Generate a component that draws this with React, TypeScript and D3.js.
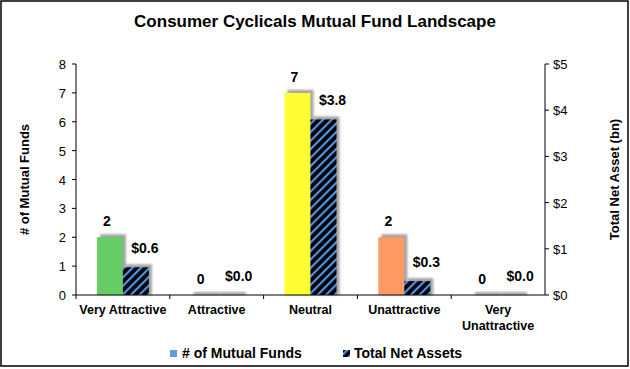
import React from 'react';
import * as d3 from 'd3';

// Consumer Cyclicals mutual fund landscape (funds count + net assets)
const categories = ['Very Attractive', 'Attractive', 'Neutral', 'Unattractive', 'Very Unattractive'];
const fundCounts = [2, 0, 7, 2, 0];
const netAssets = [0.6, 0.0, 3.8, 0.3, 0.0];
const fundColors = ['#66cc66', '#66cc66', '#ffff33', '#ff9966', '#ff9966'];
const leftTicks = [0, 1, 2, 3, 4, 5, 6, 7, 8];
const rightTicks = [0, 1, 2, 3, 4, 5];

const W = 630, H = 369;
const margin = {top: 64, right: 85, bottom: 74, left: 76};
const FONT = '"Liberation Sans", Arial, sans-serif';

export default function App() {
  const innerB = H - margin.bottom;
  const x = d3.scaleBand<string>().domain(categories).range([margin.left, W - margin.right]);
  const yL = d3.scaleLinear().domain([0, 8]).range([innerB, margin.top]);
  const yR = d3.scaleLinear().domain([0, 5]).range([innerB, margin.top]);
  const sub = d3.scaleBand<string>().domain(['funds', 'assets']).range([-26, 26]);
  const bw = sub.bandwidth();
  const cx = (c: string) => (x(c) as number) + x.bandwidth() / 2;
  const axisR = W - margin.right;

  const shadow = (bx: number, top: number, key: string) => (
    <rect key={key} x={bx + 3} y={top - 3} width={bw} height={innerB - top + 3}
      fill="#8c8c8c" opacity={0.8} filter="url(#blur)" />
  );

  return (
    <div style={{position: 'absolute', left: 0, top: 0}}>
      <svg width={W} height={H} style={{display: 'block', fontFamily: FONT}}>
        <defs>
          <pattern id="hatch" patternUnits="userSpaceOnUse" width={6} height={6} patternTransform="rotate(45)">
            <rect width={6} height={6} fill="#000" />
            <rect x={0} y={0} width={2.2} height={6} fill="#4d94ea" />
          </pattern>
          <filter id="blur" x="-20%" y="-20%" width="140%" height="140%">
            <feGaussianBlur stdDeviation={1.1} />
          </filter>
        </defs>
        <rect x={1} y={1} width={W - 3} height={H - 4} fill="#fff" stroke="#000" strokeWidth={1.5} />

        <text x={W / 2} y={27} textAnchor="middle" fontSize={17} fontWeight="bold">
          Consumer Cyclicals Mutual Fund Landscape
        </text>

        {/* bars */}
        {categories.map((c, i) => {
          const fx = cx(c) + (sub('funds') as number);
          const ax = cx(c) + (sub('assets') as number);
          const fTop = yL(fundCounts[i]);
          const aTop = yR(netAssets[i]);
          return (
            <g key={c}>
              {shadow(fx, fTop, 'fs')}
              <rect x={fx} y={fTop} width={bw} height={innerB - fTop} fill={fundColors[i]} />
              {shadow(ax, aTop, 'as')}
              {netAssets[i] > 0 && <rect x={ax} y={aTop} width={bw} height={innerB - aTop} fill="url(#hatch)" />}
              <text x={fx + bw / 2 - 3} y={fTop - 11} textAnchor="middle" fontSize={14} fontWeight="bold">
                {fundCounts[i]}
              </text>
              <text x={ax + bw / 2 + 9} y={aTop - 14} textAnchor="middle" fontSize={14} fontWeight="bold">
                {d3.format('$.1f')(netAssets[i])}
              </text>
            </g>
          );
        })}

        {/* left axis */}
        <line x1={margin.left} x2={margin.left} y1={margin.top} y2={innerB} stroke="#000" />
        {leftTicks.map(t => (
          <g key={t}>
            <line x1={margin.left - 4} x2={margin.left} y1={yL(t)} y2={yL(t)} stroke="#000" />
            <text x={margin.left - 10} y={yL(t) + 5} textAnchor="end" fontSize={13}>{t}</text>
          </g>
        ))}
        <text transform={`translate(29,${(margin.top + innerB) / 2}) rotate(-90)`} textAnchor="middle"
          fontSize={13} fontWeight="bold">
          # of Mutual Funds
        </text>

        {/* right axis */}
        <line x1={axisR} x2={axisR} y1={margin.top} y2={innerB} stroke="#000" />
        {rightTicks.map(t => (
          <g key={t}>
            <line x1={axisR} x2={axisR + 4} y1={yR(t)} y2={yR(t)} stroke="#000" />
            <text x={axisR + 8} y={yR(t) + 5} textAnchor="start" fontSize={13}>{d3.format('$')(t)}</text>
          </g>
        ))}
        <text transform={`translate(619,${(margin.top + innerB) / 2}) rotate(-90)`} textAnchor="middle"
          fontSize={13} fontWeight="bold">
          Total Net Asset (bn)
        </text>

        {/* x axis */}
        <line x1={margin.left} x2={axisR} y1={innerB} y2={innerB} stroke="#000" strokeWidth={1.2} />
        {categories.map(c => (
          <line key={'t' + c} x1={x(c) as number} x2={x(c) as number} y1={innerB} y2={innerB + 4} stroke="#000" />
        ))}
        {categories.map(c => {
          const words = c === 'Very Unattractive' ? ['Very', 'Unattractive'] : [c];
          return (
            <text key={'l' + c} x={cx(c)} y={314} textAnchor="middle" fontSize={12.5} fontWeight="bold">
              {words.map((w, j) => <tspan key={w} x={cx(c)} dy={j === 0 ? 0 : 16}>{w}</tspan>)}
            </text>
          );
        })}

        {/* legend */}
        <rect x={170} y={350} width={7} height={7} fill="#5b9bea" />
        <text x={182} y={358} fontSize={14} fontWeight="bold"># of Mutual Funds</text>
        <rect x={343} y={350} width={7} height={7} fill="url(#hatch)" />
        <text x={354} y={358} fontSize={14} fontWeight="bold">Total Net Assets</text>
      </svg>
    </div>
  );
}
